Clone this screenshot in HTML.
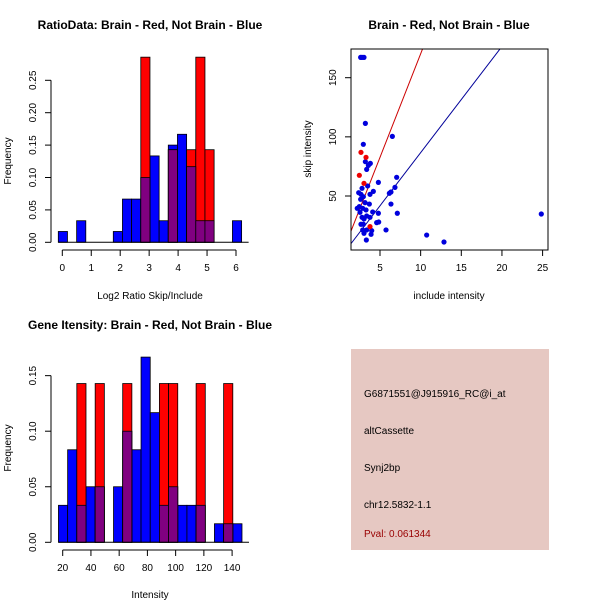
<!DOCTYPE html>
<html><head><meta charset="utf-8">
<style>body{margin:0;background:#fff}svg{display:block}text{font-family:"Liberation Sans",sans-serif;fill:#000}</style>
</head><body>
<svg id="s" width="600" height="600" xmlns="http://www.w3.org/2000/svg">
<rect width="600" height="600" fill="#fff"/>
<text x="150" y="29" text-anchor="middle" font-size="12" font-weight="bold">RatioData: Brain - Red, Not Brain - Blue</text>
<text x="150" y="299" text-anchor="middle" font-size="10">Log2 Ratio Skip/Include</text>
<text transform="translate(11,161) rotate(-90)" text-anchor="middle" font-size="10">Frequency</text>
<text x="449" y="29" text-anchor="middle" font-size="12" font-weight="bold">Brain - Red, Not Brain - Blue</text>
<text x="449" y="299" text-anchor="middle" font-size="10">include intensity</text>
<text transform="translate(311,149) rotate(-90)" text-anchor="middle" font-size="10">skip intensity</text>
<text x="150" y="329" text-anchor="middle" font-size="12" font-weight="bold">Gene Itensity: Brain - Red, Not Brain - Blue</text>
<text x="150" y="598" text-anchor="middle" font-size="10">Intensity</text>
<text transform="translate(11,448) rotate(-90)" text-anchor="middle" font-size="10">Frequency</text>
<g>
<rect x="351" y="349" width="198" height="201" fill="#e6c8c2"/>
<text x="364" y="397" font-size="10">G6871551@J915916_RC@i_at</text>
<text x="364" y="434" font-size="10">altCassette</text>
<text x="364" y="471" font-size="10">Synj2bp</text>
<text x="364" y="508" font-size="10">chr12.5832-1.1</text>
<text x="364" y="537" font-size="10" style="fill:#990000">Pval: 0.061344</text>
</g>
</svg>
<script>
// ---- Ratio histogram data ----
const ratioBinStart = -0.138, ratioBinWidth = 0.3166;
const ratioBlue = [0.0167,0,0.0333,0,0,0,0.0167,0.0667,0.0667,0.1,0.1333,0.0333,0.15,0.1667,0.1167,0.0333,0.0333,0,0,0.0333];
const ratioRed  = [0,0,0,0,0,0,0,0,0,0.2857,0,0,0.1429,0,0.1429,0.2857,0.1429,0,0,0];
const ratioXTicks = [0,1,2,3,4,5,6];
const ratioYTicks = ["0.00","0.05","0.10","0.15","0.20","0.25"];
// ---- Intensity histogram data ----
const intBinStart = 17, intBinWidth = 6.5;
const intBlue = [0.0333,0.0833,0.0333,0.05,0.05,0,0.05,0.1,0.0833,0.1667,0.1167,0.0333,0.05,0.0333,0.0333,0.0333,0,0.0167,0.0167,0.0167];
const intRed  = [0,0,0.1429,0,0.1429,0,0,0.1429,0,0,0,0.1429,0.1429,0,0,0.1429,0,0,0.1429,0];
const intXTicks = [20,40,60,80,100,120,140];
const intYTicks = ["0.00","0.05","0.10","0.15"];
// ---- Scatter data ----
const blueX = [2.62,3.03,2.79,3.2,6.52,2.95,3.2,3.81,3.57,3.36,4.8,3.48,7.05,6.84,6.35,6.15,4.18,3.77,2.38,2.79,2.66,2.95,2.62,3.16,3.69,6.35,2.46,2.87,3.28,2.54,4.1,4.8,7.13,3.36,3.77,2.79,3.03,4.59,4.84,2.66,2.95,3.98,3.36,2.87,5.74,3.03,3.9,3.32,10.74,12.87,24.84,2.2];
const blueY = [167.2,167.2,167.2,111.4,100.4,93.7,79,77.6,75.9,72.5,61.5,58.5,65.8,57.3,53.4,52.3,53.9,51.4,52.8,56.5,51.4,49.4,47.2,44.4,43.2,43.2,41,39.6,38.2,36.2,36.5,35.4,35.4,33.1,32,32,30.6,27.5,28,26.1,26.1,20.7,21.3,21.3,21.3,18.5,17.6,12.8,17,11.1,34.8,39.6];
const redX = [2.66,3.28,2.46,3.03,3.77];
const redY = [86.9,82.7,67.5,60.7,24.1];
const redLine = [-4.8,17.5];   // intercept, slope
const blueLine = [-3.15,8.98];
const scatterXTicks = [5,10,15,20,25];
const scatterYTicks = [50,100,150];

const NS="http://www.w3.org/2000/svg", svg=document.getElementById('s');
function mk(tag,attrs,parent){const e=document.createElementNS(NS,tag);for(const k in attrs)e.setAttribute(k,attrs[k]);(parent||svg).appendChild(e);return e;}

function hist(cfg){
  const g=mk('g',{});
  
  
  const sx=v=>cfg.x0+(v-cfg.xv0)*cfg.kx, sy=v=>cfg.y0-v*cfg.ky;
  const n=cfg.blue.length;
  const draw=(vals,col,nm)=>vals.forEach((v,i)=>{
    const a=sx(cfg.start+i*cfg.w), b=sx(cfg.start+(i+1)*cfg.w);
    const r=mk('rect',{x:a,y:sy(v),width:b-a,height:v*cfg.ky,fill:col,stroke:'#000','stroke-width':0.8},g);
    
    
  });
  draw(cfg.blue,'#0000ff','blue-bar');
  draw(cfg.red,'#ff0000','red-bar');
  draw(cfg.blue.map((v,i)=>Math.min(v,cfg.red[i])),'#800080','overlap-bar');
  mk('line',{x1:sx(cfg.start),x2:sx(cfg.start+n*cfg.w)+7,y1:cfg.y0,y2:cfg.y0,stroke:'#000'},g);
  const xa=mk('g',{},g);
  
  
  const xt=cfg.xticks;
  mk('line',{x1:sx(xt[0]),x2:sx(xt[xt.length-1]),y1:cfg.xaxY,y2:cfg.xaxY,stroke:'#000'},xa);
  xt.forEach(t=>{mk('line',{x1:sx(t),x2:sx(t),y1:cfg.xaxY,y2:cfg.xaxY+6,stroke:'#000'},xa);
    const tx=mk('text',{x:sx(t),y:cfg.xaxY+21,'text-anchor':'middle','font-size':10},xa);tx.textContent=t;});
  const ya=mk('g',{},g);
  
  
  const yt=cfg.yticks;
  mk('line',{x1:51,x2:51,y1:sy(+yt[0]),y2:sy(+yt[yt.length-1]),stroke:'#000'},ya);
  yt.forEach(t=>{const y=sy(+t);mk('line',{x1:45,x2:51,y1:y,y2:y,stroke:'#000'},ya);
    const tx=mk('text',{transform:`translate(36,${y}) rotate(-90)`,'text-anchor':'middle','font-size':10},ya);tx.textContent=t;});
}
hist({name:'ratio-histogram',blue:ratioBlue,red:ratioRed,start:ratioBinStart,w:ratioBinWidth,x0:62.3,xv0:0,kx:28.95,y0:242.3,ky:648,xaxY:250,xticks:ratioXTicks,yticks:ratioYTicks});
hist({name:'intensity-histogram',blue:intBlue,red:intRed,start:intBinStart,w:intBinWidth,x0:62.7,xv0:20,kx:1.4117,y0:542.3,ky:1111,xaxY:550,xticks:intXTicks,yticks:intYTicks});

(function(){
  const g=mk('g',{});
  
  
  const sx=v=>380+(v-5)*8.13, sy=v=>196-(v-50)*1.183;
  const L=351,R=548,T=49,B=250;
  const cp=mk('clipPath',{id:'cp'},g);mk('rect',{x:L,y:T,width:R-L,height:B-T},cp);
  const lines=mk('g',{'clip-path':'url(#cp)'},g);
  [[redLine,'#cc0000','red-regression-line'],[blueLine,'#000099','blue-regression-line']].forEach(([p,c,nm])=>{
    const x1=1.4,x2=30;
    const l=mk('line',{x1:sx(x1),y1:sy(p[0]+p[1]*x1),x2:sx(x2),y2:sy(p[0]+p[1]*x2),stroke:c,'stroke-width':1},lines);
    
    
  });
  blueX.forEach((x,i)=>{const c=mk('circle',{cx:sx(x),cy:sy(blueY[i]),r:2.6,fill:'#0000dd'},g);
    
    });
  redX.forEach((x,i)=>{const c=mk('circle',{cx:sx(x),cy:sy(redY[i]),r:2.6,fill:'#ee0000'},g);
    
    });
  mk('rect',{x:L,y:T,width:R-L,height:B-T,fill:'none',stroke:'#000'},g);
  scatterXTicks.forEach(t=>{mk('line',{x1:sx(t),x2:sx(t),y1:B,y2:B+6,stroke:'#000'},g);
    const tx=mk('text',{x:sx(t),y:B+21,'text-anchor':'middle','font-size':10},g);tx.textContent=t;});
  scatterYTicks.forEach(t=>{mk('line',{x1:L-6,x2:L,y1:sy(t),y2:sy(t),stroke:'#000'},g);
    const tx=mk('text',{transform:`translate(${L-15},${sy(t)}) rotate(-90)`,'text-anchor':'middle','font-size':10},g);tx.textContent=t;});
})();
</script>
</body></html>
